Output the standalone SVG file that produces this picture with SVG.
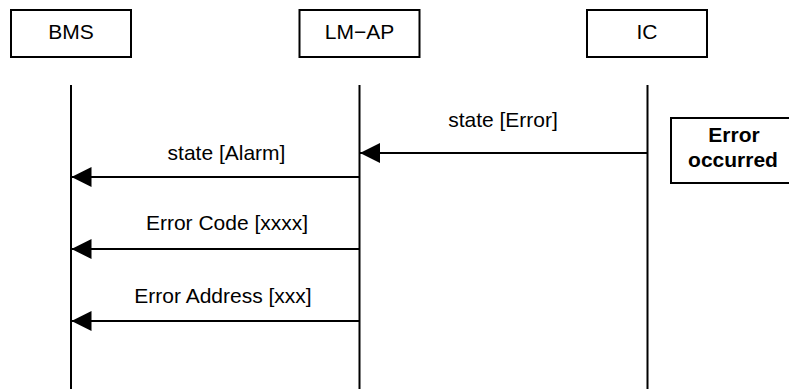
<svg xmlns="http://www.w3.org/2000/svg" width="789" height="389" viewBox="0 0 789 389">
<style>
  .box { fill: #fff; stroke: #000; stroke-width: 2; }
  .life { stroke: #000; stroke-width: 2; fill: none; }
  .msg { stroke: #000; stroke-width: 2; fill: none; marker-end: url(#ah); }
  text { font-family: "Liberation Sans", Arial, "Noto Sans CJK JP", sans-serif; font-size: 21px; fill: #000; text-anchor: middle; }
  .bold { font-weight: bold; }
</style>
<defs>
  <marker id="ah" viewBox="0 0 20 20" refX="20" refY="10" markerWidth="20" markerHeight="20" markerUnits="userSpaceOnUse" orient="auto">
    <path d="M0,0 L20,10 L0,20 Z" fill="#000"/>
  </marker>
</defs>
<rect width="789" height="389" fill="#fff"/>
<g id="bms">
  <rect class="box" x="11" y="10" width="120" height="47"/>
  <text x="71" y="38.5">BMS</text>
  <line class="life" x1="71" y1="85" x2="71" y2="389"/>
</g>
<g id="lmap">
  <rect class="box" x="299.5" y="10" width="120" height="47"/>
  <text x="359.5" y="38.5">LM−AP</text>
  <line class="life" x1="359.5" y1="85" x2="359.5" y2="389"/>
</g>
<g id="ic">
  <rect class="box" x="587" y="10" width="120" height="47"/>
  <text x="647" y="38.5">IC</text>
  <line class="life" x1="647.5" y1="85" x2="647.5" y2="389"/>
</g>
<g id="error-occurred">
  <rect class="box" x="671" y="118" width="120" height="65"/>
  <text class="bold" x="734" y="141.7">Error</text>
  <text class="bold" x="733" y="166.7">occurred</text>
</g>
<g id="connectors">
  <line class="msg" x1="647.5" y1="153" x2="360" y2="153"/>
  <text x="503" y="127">state [Error]</text>
  <line class="msg" x1="359.5" y1="177" x2="71.5" y2="177"/>
  <text x="226.5" y="159.5">state [Alarm]</text>
  <line class="msg" x1="359.5" y1="249" x2="71.5" y2="249"/>
  <text x="227" y="230">Error Code [xxxx]</text>
  <line class="msg" x1="359.5" y1="321" x2="71.5" y2="321"/>
  <text x="223" y="302.5">Error Address [xxx]</text>
</g>
</svg>
